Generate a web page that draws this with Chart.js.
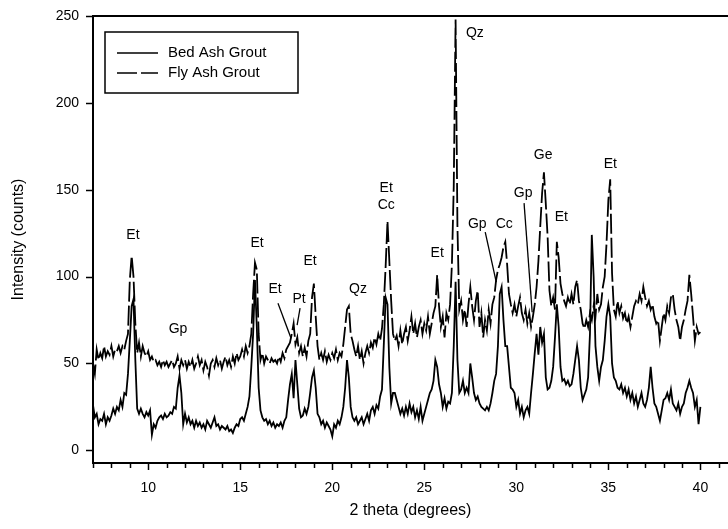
<!DOCTYPE html>
<html>
<head>
<meta charset="utf-8">
<title>XRD - grouts</title>
<script src="https://cdn.jsdelivr.net/npm/chart.js@4.4.1/dist/chart.umd.min.js"></script>
<style>
  html, body { margin: 0; padding: 0; background: #fff; }
</style>
</head>
<body>
<canvas id="xrdChart" width="728" height="529"></canvas>
<script>
// 2 theta scan positions (degrees)
const twoTheta = [
  7.0, 7.1, 7.2, 7.3, 7.4, 7.5, 7.6, 7.7, 7.8, 7.9,
  8.0, 8.1, 8.2, 8.3, 8.4, 8.5, 8.6, 8.7, 8.8, 8.9,
  9.0, 9.1, 9.2, 9.3, 9.4, 9.5, 9.6, 9.7, 9.8, 9.9,
  10.0, 10.1, 10.2, 10.3, 10.4, 10.5, 10.6, 10.7, 10.8, 10.9,
  11.0, 11.1, 11.2, 11.3, 11.4, 11.5, 11.6, 11.7, 11.8, 11.9,
  12.0, 12.1, 12.2, 12.3, 12.4, 12.5, 12.6, 12.7, 12.8, 12.9,
  13.0, 13.1, 13.2, 13.3, 13.4, 13.5, 13.6, 13.7, 13.8, 13.9,
  14.0, 14.1, 14.2, 14.3, 14.4, 14.5, 14.6, 14.7, 14.8, 14.9,
  15.0, 15.1, 15.2, 15.3, 15.4, 15.5, 15.6, 15.7, 15.8, 15.9,
  16.0, 16.1, 16.2, 16.3, 16.4, 16.5, 16.6, 16.7, 16.8, 16.9,
  17.0, 17.1, 17.2, 17.3, 17.4, 17.5, 17.6, 17.7, 17.8, 17.9,
  18.0, 18.1, 18.2, 18.3, 18.4, 18.5, 18.6, 18.7, 18.8, 18.9,
  19.0, 19.1, 19.2, 19.3, 19.4, 19.5, 19.6, 19.7, 19.8, 19.9,
  20.0, 20.1, 20.2, 20.3, 20.4, 20.5, 20.6, 20.7, 20.8, 20.9,
  21.0, 21.1, 21.2, 21.3, 21.4, 21.5, 21.6, 21.7, 21.8, 21.9,
  22.0, 22.1, 22.2, 22.3, 22.4, 22.5, 22.6, 22.7, 22.8, 22.9,
  23.0, 23.1, 23.2, 23.3, 23.4, 23.5, 23.6, 23.7, 23.8, 23.9,
  24.0, 24.1, 24.2, 24.3, 24.4, 24.5, 24.6, 24.7, 24.8, 24.9,
  25.0, 25.1, 25.2, 25.3, 25.4, 25.5, 25.6, 25.7, 25.8, 25.9,
  26.0, 26.1, 26.2, 26.3, 26.4, 26.5, 26.6, 26.7, 26.8, 26.9,
  27.0, 27.1, 27.2, 27.3, 27.4, 27.5, 27.6, 27.7, 27.8, 27.9,
  28.0, 28.1, 28.2, 28.3, 28.4, 28.5, 28.6, 28.7, 28.8, 28.9,
  29.0, 29.1, 29.2, 29.3, 29.4, 29.5, 29.6, 29.7, 29.8, 29.9,
  30.0, 30.1, 30.2, 30.3, 30.4, 30.5, 30.6, 30.7, 30.8, 30.9,
  31.0, 31.1, 31.2, 31.3, 31.4, 31.5, 31.6, 31.7, 31.8, 31.9,
  32.0, 32.1, 32.2, 32.3, 32.4, 32.5, 32.6, 32.7, 32.8, 32.9,
  33.0, 33.1, 33.2, 33.3, 33.4, 33.5, 33.6, 33.7, 33.8, 33.9,
  34.0, 34.1, 34.2, 34.3, 34.4, 34.5, 34.6, 34.7, 34.8, 34.9,
  35.0, 35.1, 35.2, 35.3, 35.4, 35.5, 35.6, 35.7, 35.8, 35.9,
  36.0, 36.1, 36.2, 36.3, 36.4, 36.5, 36.6, 36.7, 36.8, 36.9,
  37.0, 37.1, 37.2, 37.3, 37.4, 37.5, 37.6, 37.7, 37.8, 37.9,
  38.0, 38.1, 38.2, 38.3, 38.4, 38.5, 38.6, 38.7, 38.8, 38.9,
  39.0, 39.1, 39.2, 39.3, 39.4, 39.5, 39.6, 39.7, 39.8, 39.9,
  40.0
];

// intensity (counts)
const bedAsh = [
  26, 19, 21, 15, 18, 17, 21, 15, 19, 17,
  20, 24, 21, 25, 23, 29, 25, 33, 32, 44,
  63, 83, 87, 52, 24, 21, 24, 21, 19, 22,
  20, 23, 9, 15, 13, 17, 19, 20, 18, 21,
  19, 20, 22, 21, 25, 24, 36, 43, 33, 15,
  21, 16, 19, 15, 17, 13, 17, 14, 16, 13,
  15, 12, 17, 15, 13, 16, 19, 14, 15, 12,
  14, 13, 12, 14, 11, 12, 10, 13, 15, 14,
  18, 19, 17, 21, 25, 31, 48, 67, 98, 71,
  36, 23, 19, 17, 18, 15, 17, 14, 16, 13,
  15, 14, 16, 13, 17, 19, 29, 38, 44, 30,
  52, 38, 24, 19, 20, 24, 21, 25, 33, 42,
  46, 36, 21, 19, 15, 17, 13, 16, 14, 12,
  8, 15, 13, 17, 15, 19, 25, 36, 52, 42,
  25, 19, 17, 19, 15, 17, 19, 15, 18, 21,
  17, 23, 25, 21, 26, 24, 31, 35, 61, 88,
  84, 48, 27, 33, 33, 29, 25, 21, 24, 20,
  25, 21, 27, 22, 25, 19, 23, 18, 25, 17,
  21, 25, 29, 33, 35, 40, 52, 48, 38, 33,
  25, 30, 24, 28, 27, 33, 60, 97, 52, 33,
  35, 40, 33, 36, 33, 50, 42, 33, 29, 31,
  27, 25, 24, 23, 25, 23, 27, 33, 40, 44,
  60, 90, 94, 75, 60, 60, 48, 36, 35, 33,
  25, 29, 21, 25, 19, 23, 25, 21, 33, 44,
  56, 67, 55, 71, 62, 67, 42, 35, 36, 40,
  48, 65, 84, 71, 48, 40, 41, 38, 40, 37,
  38, 44, 52, 60, 52, 36, 29, 32, 35, 42,
  67, 124, 100, 60, 48, 40, 48, 52, 63, 77,
  84, 77, 50, 42, 40, 36, 35, 38, 33, 36,
  31, 35, 29, 33, 27, 31, 25, 29, 33, 27,
  25, 29, 36, 48, 36, 27, 25, 21, 17, 23,
  29, 30, 33, 29, 35, 27, 25, 23, 27, 21,
  25, 27, 33, 36, 40, 36, 33, 25, 29, 15,
  25
];

const flyAsh = [
  50, 44, 58, 52, 56, 53, 60, 54, 57, 55,
  60, 54, 58, 57, 60, 56, 60, 58, 63, 67,
  98, 112, 100, 73, 56, 62, 54, 60, 56, 54,
  57, 52, 54, 51, 52, 49, 51, 48, 52, 49,
  51, 48, 50, 52, 48, 50, 54, 47, 52, 49,
  52, 47, 51, 48, 52, 47, 50, 54, 49, 52,
  46, 51, 48, 43, 50, 52, 48, 53, 49, 52,
  47, 51, 54, 49, 52, 48, 54, 50, 56, 52,
  54, 58, 54, 60, 56, 60, 67, 90, 108, 104,
  67, 52, 56, 50, 54, 52, 50, 53, 51, 52,
  50, 54, 51, 56, 53, 58, 60, 62, 67, 73,
  61, 65, 56, 60, 54, 59, 54, 63, 67, 88,
  96, 77, 60, 52, 56, 52, 57, 51, 55, 52,
  56, 53, 58, 52, 56, 54, 61, 71, 81, 83,
  67, 63, 58, 54, 60, 52, 57, 50, 56, 60,
  56, 62, 59, 65, 61, 67, 63, 70, 84, 106,
  132, 109, 86, 67, 63, 66, 60, 69, 61, 67,
  71, 63, 69, 77, 67, 73, 65, 71, 75, 67,
  73, 69, 77, 67, 73, 79, 83, 101, 83, 71,
  77, 65, 79, 75, 84, 107, 152, 248, 129, 81,
  86, 75, 81, 71, 84, 94, 83, 75, 86, 92,
  71, 79, 65, 75, 69, 81, 73, 84, 88, 98,
  104, 107, 111, 117, 120, 107, 90, 84, 79, 84,
  77, 83, 88, 79, 75, 81, 73, 79, 71, 77,
  84, 94, 109, 129, 148, 160, 142, 123, 92, 83,
  88, 81, 120, 111, 96, 90, 86, 83, 88, 84,
  90, 84, 94, 98, 86, 81, 73, 70, 75, 71,
  79, 75, 83, 77, 90, 81, 84, 94, 100, 119,
  144, 156, 102, 81, 77, 86, 79, 83, 76, 79,
  73, 77, 71, 77, 83, 86, 84, 90, 86, 94,
  88, 83, 86, 81, 84, 77, 73, 75, 63, 71,
  79, 75, 83, 79, 88, 90, 81, 75, 71, 63,
  71, 75, 81, 86, 101, 90, 77, 63, 71, 67,
  68
];

const seriesNames = ['Bed Ash Grout', 'Fly Ash Grout'];
const yTickValues = [0, 50, 100, 150, 200, 250];

// phase labels (text, 2theta, counts)
const peakLabels = [
  ['Et', 9.17, 124], ['Gp', 11.62, 70], ['Et', 15.91, 119], ['Et', 16.89, 93],
  ['Pt', 18.2, 87], ['Et', 18.79, 109], ['Qz', 21.4, 93], ['Et', 22.93, 151],
  ['Cc', 22.93, 141], ['Et', 25.7, 113.5], ['Qz', 27.75, 240], ['Gp', 27.88, 130],
  ['Cc', 29.34, 130], ['Gp', 30.37, 148], ['Ge', 31.46, 170], ['Et', 32.44, 134],
  ['Et', 35.11, 165]
];
// leader lines from a label to its peak (x1, y1, x2, y2)
const leaderLines = [
  [17.05, 84.7, 17.76, 64.5],
  [18.25, 81.8, 18.09, 72.0],
  [28.31, 125.6, 28.91, 96.8],
  [30.42, 142.3, 30.86, 79.5]
];

const FONT = '"Liberation Sans", Arial, Helvetica, sans-serif';
const FLY_DASH = [20, 4];

function toPoints(ys) {
  return twoTheta.map((t, i) => ({ x: t, y: ys[i] }));
}

// tick marks + top frame line
const axisDecor = {
  id: 'axisDecor',
  afterDraw(chart) {
    const ctx = chart.ctx;
    const xs = chart.scales.x, ys = chart.scales.y;
    const a = chart.chartArea;
    ctx.save();
    ctx.strokeStyle = '#000';
    ctx.lineWidth = 2;
    ctx.beginPath();
    ctx.moveTo(a.left - 1, a.top);
    ctx.lineTo(a.right, a.top);
    ctx.stroke();
    ctx.lineWidth = 1.5;
    for (let v = 7; v <= 41; v++) {
      const px = Math.round(xs.getPixelForValue(v)) + 0.5;
      const len = v % 5 === 0 ? 7 : 5;
      ctx.beginPath();
      ctx.moveTo(px, a.bottom);
      ctx.lineTo(px, a.bottom + len);
      ctx.stroke();
    }
    yTickValues.forEach(v => {
      const py = Math.round(ys.getPixelForValue(v)) + 0.5;
      ctx.beginPath();
      ctx.moveTo(a.left - 7, py);
      ctx.lineTo(a.left, py);
      ctx.stroke();
    });
    ctx.restore();
  }
};

const peakText = {
  id: 'peakText',
  afterDatasetsDraw(chart) {
    const ctx = chart.ctx;
    const xs = chart.scales.x, ys = chart.scales.y;
    ctx.save();
    ctx.fillStyle = '#000';
    ctx.font = '14px ' + FONT;
    ctx.textAlign = 'center';
    ctx.textBaseline = 'middle';
    peakLabels.forEach(([txt, x, y]) => {
      ctx.fillText(txt, xs.getPixelForValue(x), ys.getPixelForValue(y));
    });
    ctx.strokeStyle = '#000';
    ctx.lineWidth = 1.3;
    leaderLines.forEach(([x1, y1, x2, y2]) => {
      ctx.beginPath();
      ctx.moveTo(xs.getPixelForValue(x1), ys.getPixelForValue(y1));
      ctx.lineTo(xs.getPixelForValue(x2), ys.getPixelForValue(y2));
      ctx.stroke();
    });
    ctx.restore();
  }
};

// boxed legend in the upper left corner
const boxLegend = {
  id: 'boxLegend',
  afterDraw(chart) {
    const ctx = chart.ctx;
    const a = chart.chartArea;
    const bx = a.left + 12, by = a.top + 16, bw = 193, bh = 61;
    ctx.save();
    ctx.fillStyle = '#fff';
    ctx.fillRect(bx, by, bw, bh);
    ctx.strokeStyle = '#000';
    ctx.lineWidth = 1.5;
    ctx.strokeRect(bx, by, bw, bh);
    ctx.font = '15px ' + FONT;
    ctx.textBaseline = 'middle';
    ctx.fillStyle = '#000';
    seriesNames.forEach((name, i) => {
      const ly = by + 21 + i * 20;
      ctx.setLineDash(i === 1 ? FLY_DASH : []);
      ctx.lineWidth = 1.6;
      ctx.beginPath();
      ctx.moveTo(bx + 12, ly);
      ctx.lineTo(bx + 53, ly);
      ctx.stroke();
      ctx.setLineDash([]);
      ctx.fillText(name, bx + 63, ly);
    });
    ctx.restore();
  }
};

new Chart('xrdChart', {
  type: 'line',
  data: {
    datasets: [
      {
        label: seriesNames[0],
        data: toPoints(bedAsh),
        borderColor: '#000',
        borderWidth: 1.8,
        pointRadius: 0,
        tension: 0,
        fill: false
      },
      {
        label: seriesNames[1],
        data: toPoints(flyAsh),
        borderColor: '#000',
        borderWidth: 1.8,
        borderDash: FLY_DASH,
        pointRadius: 0,
        tension: 0,
        fill: false
      }
    ]
  },
  options: {
    responsive: false,
    animation: false,
    layout: { padding: { top: 16, right: 0, bottom: 0, left: 0 } },
    plugins: { legend: { display: false }, tooltip: { enabled: false } },
    scales: {
      x: {
        type: 'linear',
        min: 7,
        max: 41.5,
        afterFit: s => { s.height = 66; },
        grid: { display: false },
        border: { display: true, color: '#000', width: 2 },
        ticks: {
          stepSize: 1,
          autoSkip: false,
          maxRotation: 0,
          includeBounds: false,
          padding: 9,
          color: '#000',
          font: { family: FONT, size: 14 },
          callback: v => (v % 5 === 0 ? String(v) : '')
        },
        title: {
          display: true,
          text: '2 theta (degrees)',
          color: '#000',
          font: { family: FONT, size: 16 },
          padding: { top: 0, bottom: 9 }
        }
      },
      y: {
        min: -7.3,
        max: 250,
        afterFit: s => { s.width = 93; },
        grid: { display: false },
        border: { display: true, color: '#000', width: 2 },
        ticks: {
          stepSize: 50,
          includeBounds: false,
          padding: 6,
          color: '#000',
          font: { family: FONT, size: 14 }
        },
        title: {
          display: true,
          text: 'Intensity (counts)',
          color: '#000',
          font: { family: FONT, size: 16 },
          padding: { top: 9, bottom: 0 }
        }
      }
    }
  },
  plugins: [axisDecor, peakText, boxLegend]
});
</script>
</body>
</html>
